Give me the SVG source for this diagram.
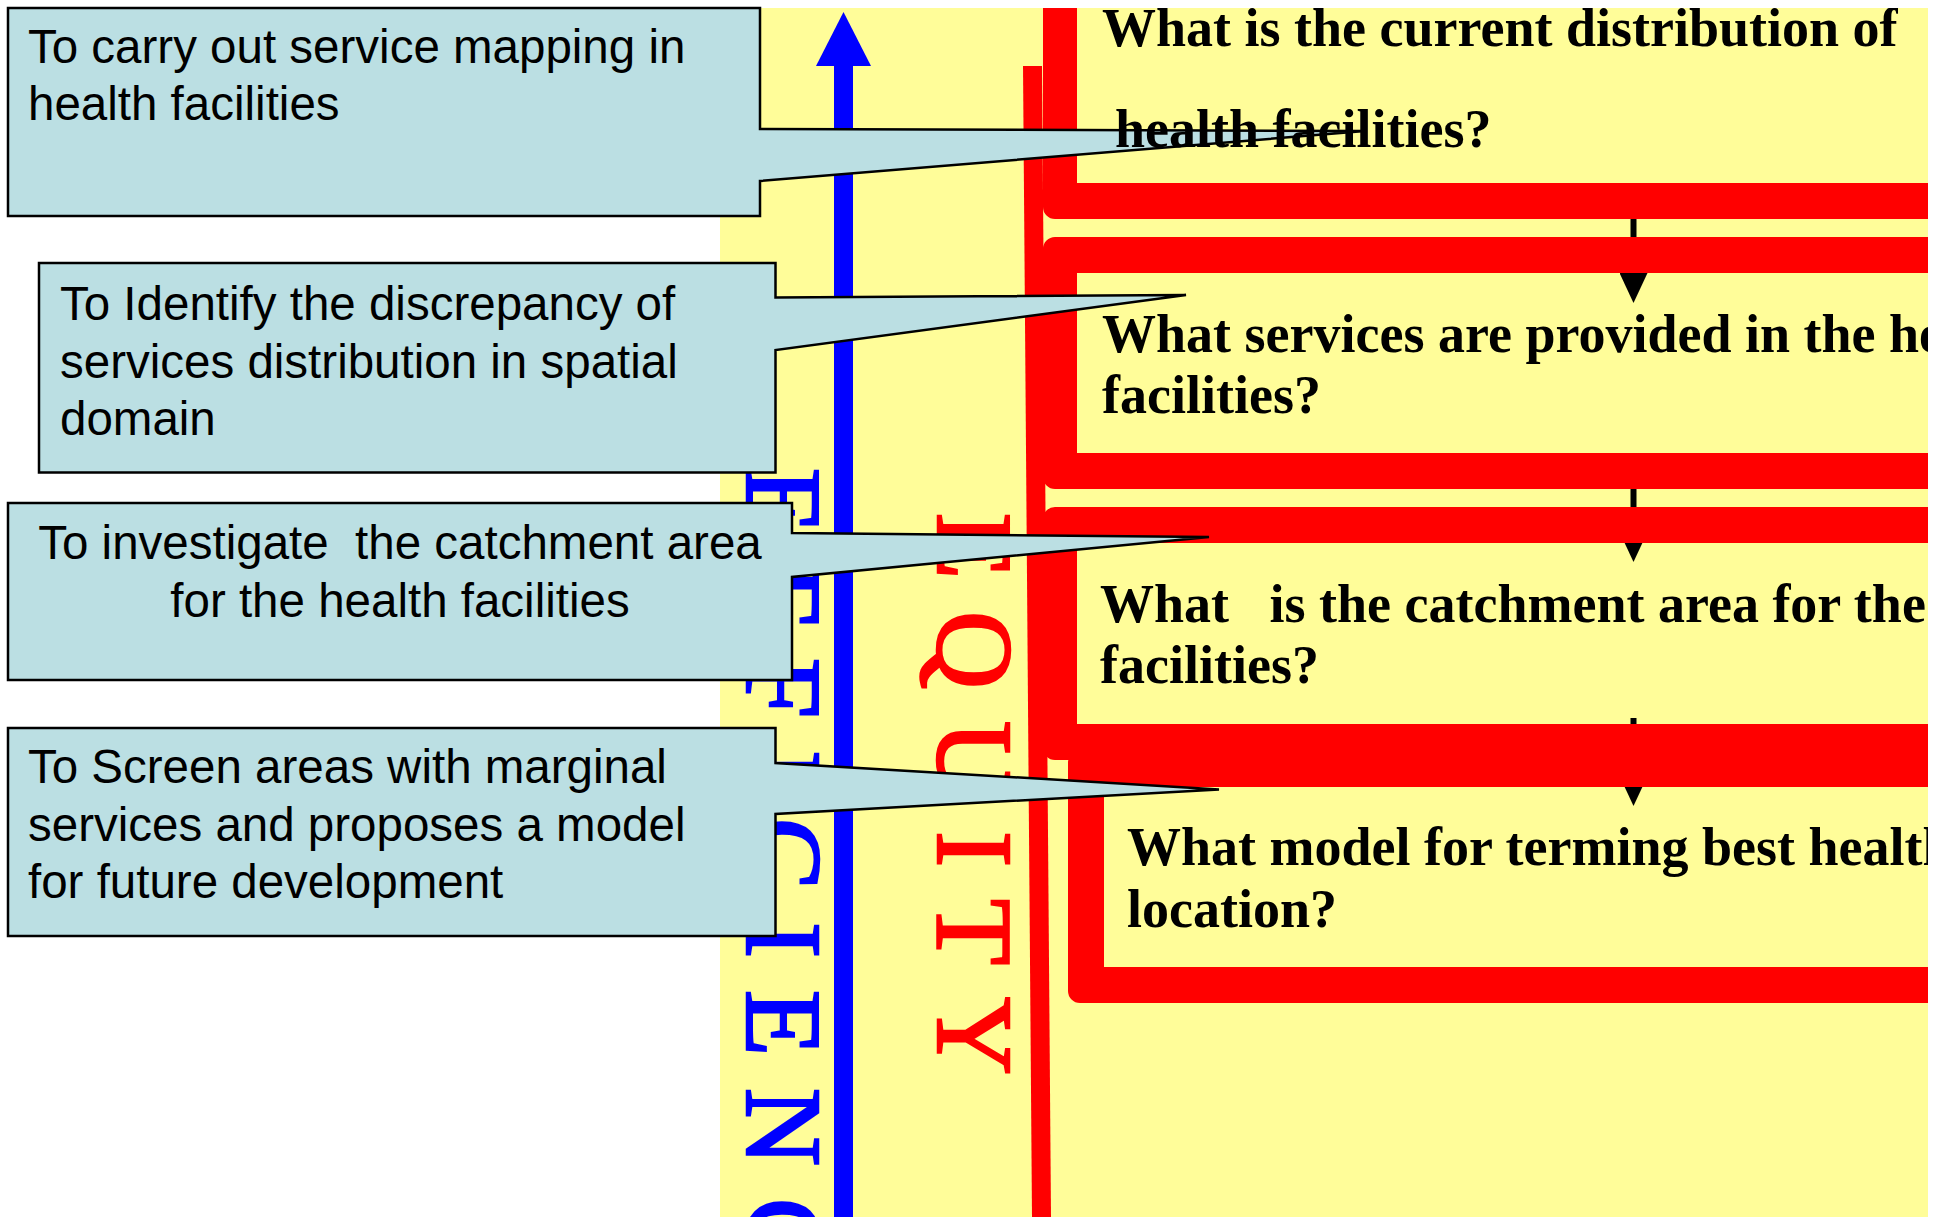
<svg xmlns="http://www.w3.org/2000/svg" width="1948" height="1217" viewBox="0 0 1948 1217">
  <defs>
    <style>
      .callout { fill: #BBDFE3; stroke: #000; stroke-width: 2.5; stroke-linejoin: miter; }
      .ctext { font-family: "Liberation Sans", Arial, sans-serif; font-size: 47.5px; fill: #000; white-space: pre; }
      .qtext { font-family: "Liberation Serif", "Times New Roman", serif; font-size: 54px; font-weight: bold; fill: #000; white-space: pre; }
      .qbox { fill: #FF0000; fill-rule: evenodd; }
      .axis { font-family: "Liberation Serif", "Times New Roman", serif; font-size: 108px; letter-spacing: 32px; stroke-width: 2.5; }
      .conn { stroke: #000; stroke-width: 6; fill: none; }
    </style>
    <clipPath id="panelClip">
      <rect x="720" y="8" width="1208" height="1209"/>
    </clipPath>
    <marker id="head" viewBox="0 0 30 28" markerWidth="30" markerHeight="28" refX="10" refY="14" orient="auto" markerUnits="userSpaceOnUse">
      <path d="M0,0 L30,14 L0,28 Z" fill="#000"/>
    </marker>
  </defs>

  <rect x="0" y="0" width="1948" height="1217" fill="#FFFFFF"/>

  <g id="panel" clip-path="url(#panelClip)">
    <rect x="720" y="8" width="1208" height="1209" fill="#FFFD99"/>

    <g id="efficiency-axis">
      <rect x="834" y="66" width="19" height="1151" fill="#0000FF"/>
      <polygon points="816,66 871,66 843.5,12" fill="#0000FF"/>
      <text class="axis" fill="#0000FF" stroke="#0000FF" transform="translate(747,468) rotate(90)">EFFICIENC</text>
    </g>

    <g id="equity-axis">
      <text class="axis" fill="#FF0000" stroke="#FF0000" transform="translate(938,513) rotate(90)">EQUITY</text>
      <polygon points="1023,66 1042,66 1051,1217 1032,1217" fill="#FF0000"/>
    </g>

    <g id="connectors">
      <line class="conn" x1="1633.5" y1="205" x2="1633.5" y2="283" marker-end="url(#head)"/>
      <line class="conn" x1="1633.5" y1="475" x2="1633.5" y2="542" marker-end="url(#head)"/>
      <line class="conn" x1="1633.5" y1="718" x2="1633.5" y2="786" marker-end="url(#head)"/>
    </g>

    <g id="q1-box">
      <path class="qbox" d="M1055,-60 H1978 A12,12 0 0 1 1990,-48 V207 A12,12 0 0 1 1978,219 H1055 A12,12 0 0 1 1043,207 V-48 A12,12 0 0 1 1055,-60 Z M1077,-30 H1956 V183 H1077 Z"/>
    </g>
    <g id="q2-box">
      <path class="qbox" d="M1055,237 H1978 A12,12 0 0 1 1990,249 V477 A12,12 0 0 1 1978,489 H1055 A12,12 0 0 1 1043,477 V249 A12,12 0 0 1 1055,237 Z M1077,273 H1956 V453 H1077 Z"/>
    </g>
    <g id="q3-box">
      <path class="qbox" d="M1055,507 H1978 A12,12 0 0 1 1990,519 V748 A12,12 0 0 1 1978,760 H1055 A12,12 0 0 1 1043,748 V519 A12,12 0 0 1 1055,507 Z M1077,543 H1956 V724 H1077 Z"/>
    </g>
    <g id="q4-box">
      <path class="qbox" d="M1080,751 H1978 A12,12 0 0 1 1990,763 V991 A12,12 0 0 1 1978,1003 H1080 A12,12 0 0 1 1068,991 V763 A12,12 0 0 1 1080,751 Z M1104,787 H1956 V967 H1104 Z"/>
    </g>
  </g>

  <g id="callout-1">
    <path class="callout" d="M8,8 H760 V129 L1365,131 L760,181 V216 H8 Z"/>
    <text class="ctext" x="28" y="63">To carry out service mapping in</text>
    <text class="ctext" x="28" y="120">health facilities</text>
  </g>
  <g id="callout-2">
    <path class="callout" d="M39,263 H775.5 V297.5 L1186,295 L775.5,350 V472.5 H39 Z"/>
    <text class="ctext" x="60" y="320">To Identify the discrepancy of</text>
    <text class="ctext" x="60" y="378">services distribution in spatial</text>
    <text class="ctext" x="60" y="435">domain</text>
  </g>
  <g id="callout-3">
    <path class="callout" d="M8,503 H792 V533 L1209,537 L792,577 V680 H8 Z"/>
    <text class="ctext" x="400" y="559" text-anchor="middle">To investigate  the catchment area</text>
    <text class="ctext" x="400" y="617" text-anchor="middle">for the health facilities</text>
  </g>
  <g id="callout-4">
    <path class="callout" d="M8,728 H775.5 V763 L1219,789.5 L775.5,814 V936 H8 Z"/>
    <text class="ctext" x="28" y="783">To Screen areas with marginal</text>
    <text class="ctext" x="28" y="841">services and proposes a model</text>
    <text class="ctext" x="28" y="898">for future development</text>
  </g>

  <g id="questions" clip-path="url(#panelClip)">
    <g id="q1-text">
      <text class="qtext" x="1102" y="46">What is the current distribution of</text>
      <text class="qtext" x="1115" y="147">health facilities?</text>
    </g>
    <g id="q2-text">
      <text class="qtext" x="1102" y="352">What services are provided in the he</text>
      <text class="qtext" x="1102" y="413">facilities?</text>
    </g>
    <g id="q3-text">
      <text class="qtext" x="1100" y="622">What   is the catchment area for the</text>
      <text class="qtext" x="1100" y="683">facilities?</text>
    </g>
    <g id="q4-text">
      <text class="qtext" x="1127" y="865">What model for terming best health</text>
      <text class="qtext" x="1127" y="927">location?</text>
    </g>
  </g>
</svg>
